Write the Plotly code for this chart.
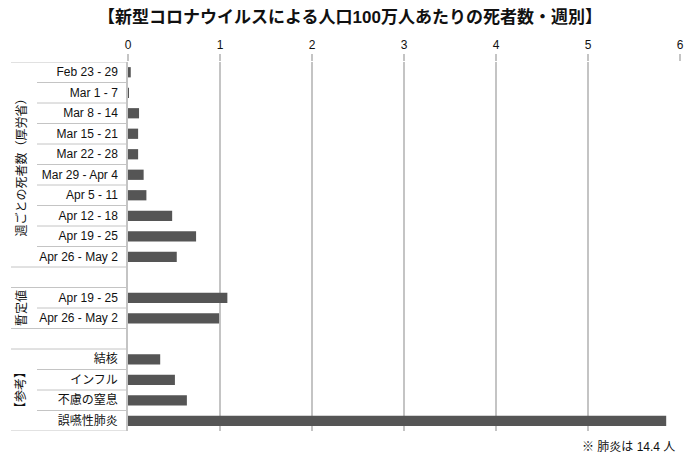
import plotly.graph_objects as go

# Data: deaths per 1M population, weekly
weekly_labels = ["Feb 23 - 29", "Mar 1 - 7", "Mar 8 - 14", "Mar 15 - 21", "Mar 22 - 28",
                 "Mar 29 - Apr 4", "Apr 5 - 11", "Apr 12 - 18", "Apr 19 - 25", "Apr 26 - May 2"]
weekly_values = [0.03, 0.01, 0.12, 0.11, 0.11, 0.17, 0.20, 0.48, 0.74, 0.53]

provisional_labels = ["Apr 19 - 25", "Apr 26 - May 2"]
provisional_values = [1.08, 0.99]

reference_labels = ["結核", "インフル", "不慮の窒息", "誤嚥性肺炎"]
reference_values = [0.35, 0.51, 0.64, 5.85]

group_names = ["週ごとの死者数（厚労省）", "暫定値", "【参考】"]
x_ticks = [0, 1, 2, 3, 4, 5, 6]

groups = [
    (weekly_labels, weekly_values),
    (provisional_labels, provisional_values),
    (reference_labels, reference_values),
]

# lay out rows, with one blank row between groups
labels, values, ypos = [], [], []
group_spans = []
row = 0
for gi, (lab, val) in enumerate(groups):
    start = row
    for l, v in zip(lab, val):
        labels.append(l)
        values.append(v)
        ypos.append(row)
        row += 1
    group_spans.append((start, row - 1))
    if gi < len(groups) - 1:
        row += 1
n_rows = row

FONT = "Liberation Sans, Arial, Noto Sans CJK JP, sans-serif"
LINE = "#c4c4c4"

fig = go.Figure()
fig.add_trace(go.Bar(
    x=values, y=ypos, orientation="h", width=0.5,
    marker=dict(color="#555555", line=dict(width=0)),
    hoverinfo="x",
))

shapes = []
left_group = (11 - 128) / 552
left_row = (37 - 128) / 552
# horizontal separators in the label column
for gi, (s, e) in enumerate(group_spans):
    shapes.append(dict(type="line", xref="paper", yref="y", x0=left_group, x1=0,
                       y0=s - 0.5, y1=s - 0.5, line=dict(color=LINE, width=1)))
    shapes.append(dict(type="line", xref="paper", yref="y", x0=left_group, x1=0,
                       y0=e + 0.5, y1=e + 0.5, line=dict(color=LINE, width=1)))
    for r in range(s, e):
        shapes.append(dict(type="line", xref="paper", yref="y", x0=left_row, x1=0,
                           y0=r + 0.5, y1=r + 0.5, line=dict(color=LINE, width=1)))

annotations = []
for gi, (s, e) in enumerate(group_spans):
    annotations.append(dict(
        text=group_names[gi], xref="paper", yref="y", x=(21 - 128) / 552, y=(s + e) / 2,
        showarrow=False, textangle=-90, font=dict(size=12, color="#111", family=FONT),
        xanchor="center", yanchor="middle"))

annotations.append(dict(
    text="※ 肺炎は 14.4 人", xref="paper", yref="paper", x=0.995, y=-16 / 369,
    xanchor="right", yanchor="middle", showarrow=False,
    font=dict(size=12, color="#111", family=FONT)))

fig.update_layout(
    width=700, height=465,
    margin=dict(l=128, r=20, t=62, b=34, autoexpand=False),
    paper_bgcolor="white", plot_bgcolor="white",
    title=dict(text="<b>【新型コロナウイルスによる人口100万人あたりの死者数・週別】</b>",
               x=0.5, xanchor="center", y=1 - 17 / 465, yanchor="middle",
               font=dict(size=17, color="#111", family=FONT)),
    font=dict(family=FONT, size=12, color="#111"),
    showlegend=False,
    bargap=0.5,
    shapes=shapes,
    annotations=annotations,
)
fig.update_xaxes(
    side="top", range=[0, 6], tickvals=x_ticks, automargin=False,
    showgrid=True, gridcolor=LINE, gridwidth=1.5,
    ticks="outside", ticklen=7, tickcolor=LINE, tickwidth=1.5,
    zeroline=False, showline=False,
    tickfont=dict(size=12, color="#111"),
)
fig.update_yaxes(
    range=[n_rows - 0.5, -0.5], tickvals=ypos, ticktext=labels, automargin=False,
    showgrid=False, zeroline=False,
    showline=True, linecolor=LINE, linewidth=1.5,
    ticks="", ticklabelstandoff=6,
    tickfont=dict(size=12, color="#111"),
)

# drop the browser's default 8px body margin so the figure sits at the page corner
fig.write_html("out.html", config={"displayModeBar": False},
               post_script="document.body.style.margin='0';")
